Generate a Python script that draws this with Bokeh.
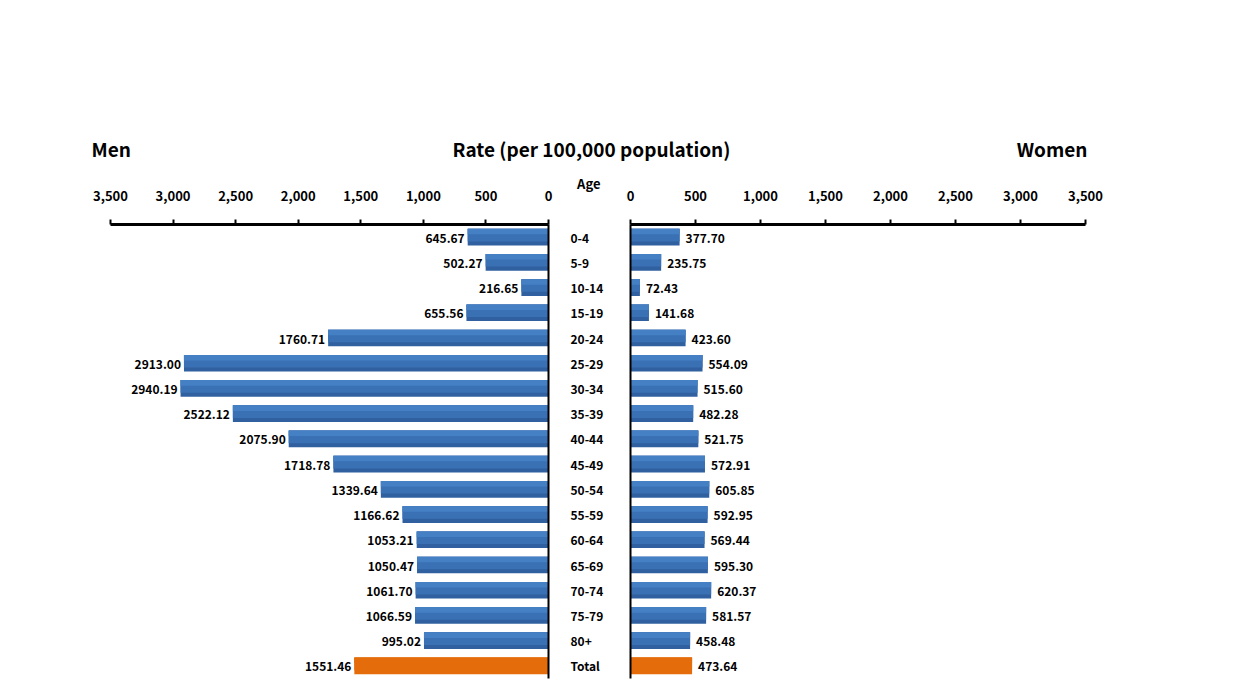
from bokeh.plotting import figure
from bokeh.layouts import column, row
from bokeh.models import (ColumnDataSource, Range1d, FactorRange, FixedTicker,
                          NumeralTickFormatter, Label, LinearAxis)
from bokeh.transform import dodge
from bokeh.core.properties import value
from bokeh.embed import file_html
from bokeh.resources import INLINE

ages = ["0-4", "5-9", "10-14", "15-19", "20-24", "25-29", "30-34", "35-39",
        "40-44", "45-49", "50-54", "55-59", "60-64", "65-69", "70-74",
        "75-79", "80+", "Total"]
men = [645.67, 502.27, 216.65, 655.56, 1760.71, 2913.00, 2940.19, 2522.12,
       2075.90, 1718.78, 1339.64, 1166.62, 1053.21, 1050.47, 1061.70,
       1066.59, 995.02, 1551.46]
women = [377.70, 235.75, 72.43, 141.68, 423.60, 554.09, 515.60, 482.28,
         521.75, 572.91, 605.85, 592.95, 569.44, 595.30, 620.37, 581.57,
         458.48, 473.64]
ticks = [0, 500, 1000, 1500, 2000, 2500, 3000, 3500]
axis_max = 3500

FONT = "Noto Sans CJK KR"
ORANGE = "#E46C0A"

def col(c):
    return [ORANGE if a == "Total" else c for a in ages]

src = ColumnDataSource(dict(
    age=ages, men=men, women=women,
    men_lbl=["%.2f" % v for v in men],
    women_lbl=["%.2f" % v for v in women],
    c1=col("#30609F"), c2=col("#3A70B4"), c3=col("#4580C4"),
))

yr = FactorRange(factors=list(reversed(ages)), range_padding=0)


def style(p):
    p.toolbar_location = None
    p.outline_line_color = None
    p.xgrid.visible = False
    p.ygrid.visible = False
    p.background_fill_color = "white"
    p.border_fill_color = "white"
    ax = p.xaxis[0]
    ax.ticker = FixedTicker(ticks=ticks)
    ax.formatter = NumeralTickFormatter(format="0,0")
    ax.axis_line_width = 3
    ax.axis_line_color = "black"
    ax.major_tick_line_width = 2
    ax.major_tick_out = 5
    ax.major_tick_in = 0
    ax.minor_tick_line_color = None
    ax.major_label_text_font = FONT
    ax.major_label_text_font_style = "bold"
    ax.major_label_text_font_size = "13px"
    ax.major_label_text_color = "black"
    ax.major_label_standoff = 19


def bars(p, field):
    p.hbar(y="age", right=field, left=0, height=0.66, source=src,
           fill_color="c1", line_color=None)
    p.hbar(y=dodge("age", 0.08, range=yr), right=field, left=0, height=0.5,
           source=src, fill_color="c2", line_color=None)
    p.hbar(y=dodge("age", 0.22, range=yr), right=field, left=0, height=0.22,
           source=src, fill_color="c3", line_color=None)


# ---- header ----
HH = 165
hdr = figure(width=1238, height=HH, x_range=Range1d(0, 1238),
             y_range=Range1d(HH, 0), output_backend="svg",
             toolbar_location=None, min_border=0)
hdr.axis.visible = False
hdr.grid.visible = False
hdr.outline_line_color = None
for txt, x, align in [("Men", 91, "left"),
                      ("Rate (per 100,000 population)", 591, "center"),
                      ("Women", 1087, "right")]:
    hdr.add_layout(Label(x=x, y=148, text=txt, text_align=align,
                         text_baseline="middle", text_font=FONT,
                         text_font_style="bold", text_font_size="19px",
                         text_color="black"))

# ---- men (left) ----
pm = figure(width=624, height=530, x_range=Range1d(axis_max, 0), y_range=yr,
            x_axis_location="above", y_axis_location="right",
            output_backend="svg", toolbar_location=None,
            min_border_left=110, min_border_right=76, min_border_top=59,
            min_border_bottom=17, title="Age")
style(pm)
pm.title.align = "right"
pm.title.offset = -52
pm.title.standoff = -10
pm.title.text_font = FONT
pm.title.text_font_style = "bold"
pm.title.text_font_size = "13px"
pm.title.text_color = "black"
bars(pm, "men")
pm.text(x="men", y="age", text="men_lbl", source=src, x_offset=-3, y_offset=1,
        text_align="right", text_baseline="middle", text_font=value(FONT),
        text_font_style="bold", text_font_size="12px", text_color="black")
ya = pm.yaxis[0]
ya.axis_line_width = 2
ya.axis_line_color = "black"
ya.major_tick_line_color = None
ya.minor_tick_line_color = None
ya.major_label_standoff = 16
ya.major_label_text_font = FONT
ya.major_label_text_font_style = "bold"
ya.major_label_text_font_size = "12px"
ya.major_label_text_color = "black"

# ---- women (right) ----
pw = figure(width=614, height=530, x_range=Range1d(0, axis_max), y_range=yr,
            x_axis_location="above", y_axis_location=None,
            output_backend="svg", toolbar_location=None,
            min_border_left=6, min_border_right=153, min_border_top=59,
            min_border_bottom=17)
style(pw)
bars(pw, "women")
pw.text(x="women", y="age", text="women_lbl", source=src, x_offset=6,
        y_offset=1, text_align="left", text_baseline="middle",
        text_font=value(FONT), text_font_style="bold",
        text_font_size="12px", text_color="black")
yb = LinearAxis(ticker=FixedTicker(ticks=[]), axis_line_width=2,
                axis_line_color="black", major_tick_line_color=None,
                minor_tick_line_color=None)
pw.add_layout(yb, "left")

layout = column(hdr, row(pm, pw))
open("out.html", "w").write(file_html(layout, INLINE))
